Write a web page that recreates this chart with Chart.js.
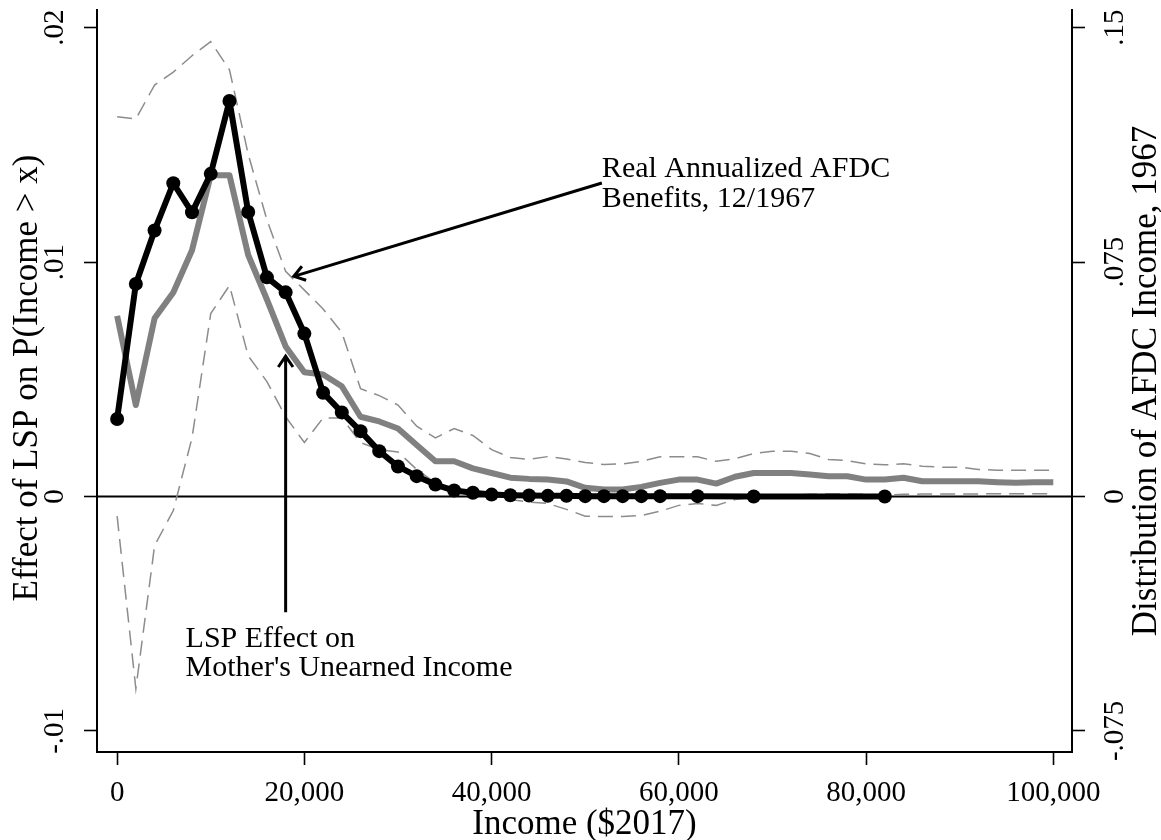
<!DOCTYPE html>
<html>
<head>
<meta charset="utf-8">
<script src="https://cdn.jsdelivr.net/npm/chart.js@4.4.1/dist/chart.umd.min.js"></script>
<style>
  html, body { margin: 0; padding: 0; background: #fff; }
  canvas { display: block; }
</style>
</head>
<body>
<canvas id="chart" width="1161" height="840"></canvas>
<script>
// Income grid ($2017) on which the LSP effect and its confidence band are estimated
const incomeGrid = [
  0, 2000, 4000, 6000, 8000, 10000, 12000, 14000, 16000, 18000,
  20000, 22000, 24000, 26000, 28000, 30000, 32000, 34000, 36000, 38000,
  40000, 42000, 44000, 46000, 48000, 50000, 52000, 54000, 56000, 58000,
  60000, 62000, 64000, 66000, 68000, 70000, 72000, 74000, 76000, 78000,
  80000, 82000, 84000, 86000, 88000, 90000, 92000, 94000, 96000, 98000,
  100000
];

// Effect of LSP on P(Income > x) (left axis)
const lspEffect = [
  0.0077, 0.0039, 0.0076, 0.0087, 0.0105, 0.0137, 0.0137, 0.0103, 0.0084, 0.0064,
  0.0053, 0.0052, 0.0047, 0.0034, 0.0032, 0.0029, 0.0022, 0.0015, 0.0015, 0.0012,
  0.0010, 0.0008, 0.00075, 0.00072, 0.00064, 0.00037, 0.0003, 0.0003, 0.00041, 0.00058,
  0.00072, 0.00072, 0.00055, 0.00084, 0.0010, 0.0010, 0.0010, 0.00094, 0.00086, 0.00086,
  0.00072, 0.00072, 0.0008, 0.00065, 0.00065, 0.00065, 0.00065, 0.00061, 0.00058, 0.00061,
  0.00061
];

// 95% confidence band around the effect
const ciUpper = [
  0.0162, 0.0161, 0.01755, 0.0181, 0.0188, 0.0194, 0.0182, 0.0146, 0.0118, 0.0096,
  0.0088, 0.0080, 0.0070, 0.0046, 0.0043, 0.0039, 0.0030, 0.0025, 0.0029, 0.0026,
  0.0020, 0.00166, 0.00158, 0.0017, 0.0016, 0.00145, 0.00136, 0.00139, 0.0015, 0.00169,
  0.00169, 0.00169, 0.0015, 0.00161, 0.00183, 0.00193, 0.00193, 0.00183, 0.00158, 0.00153,
  0.00139, 0.00135, 0.00139, 0.00129, 0.00125, 0.00125, 0.00115, 0.00112, 0.00112, 0.00112,
  0.00112
];
const ciLower = [
  -0.00084, -0.0082, -0.0021, -0.0006, 0.0025, 0.0078, 0.0090, 0.0060, 0.0049, 0.0034,
  0.0023, 0.00335, 0.00335, 0.0023, 0.0020, 0.0019, 0.00115, 0.00058, 0.00023, 0.00016,
  0.00009, -0.00013, -0.00024, -0.0003, -0.00055, -0.00084, -0.00086, -0.00085, -0.00081, -0.00063,
  -0.00038, -0.0003, -0.00038, -0.00013, -0.00002, 0.00004, 0.00006, 0.00009, 0.00011, 0.00011,
  0.00009, 0.00006, 0.00009, 0.0001, 0.0001, 0.0001, 0.00011, 0.00012, 0.00012, 0.00012,
  0.00012
];

// Distribution of real annualized AFDC benefits, 12/1967 (right axis)
const afdcIncome = [
  0, 2000, 4000, 6000, 8000, 10000, 12000, 14000, 16000, 18000,
  20000, 22000, 24000, 26000, 28000, 30000, 32000, 34000, 36000, 38000,
  40000, 42000, 44000, 46000, 48000, 50000, 52000, 54000, 56000, 58000,
  62000, 68000, 82000
];
const afdcShare = [
  0.0248, 0.0680, 0.0851, 0.1002, 0.0909, 0.1032, 0.1265, 0.0910, 0.0701, 0.0653,
  0.0521, 0.0332, 0.0269, 0.0209, 0.0145, 0.0096, 0.0065, 0.0038, 0.0019, 0.0012,
  0.0006, 0.0004, 0.0003, 0.0002, 0.0002, 0.0001, 0.0001, 0.0001, 0.0001, 0.0001,
  0.0001, 0.0000, 0.0000
];

// Axis ticks
const xTickValues = [0, 20000, 40000, 60000, 80000, 100000];
const xTickLabels = ['0', '20,000', '40,000', '60,000', '80,000', '100,000'];
const leftTickValues = [-0.01, 0, 0.01, 0.02];
const leftTickLabels = ['-.01', '0', '.01', '.02'];
const rightTickValues = [-0.075, 0, 0.075, 0.15];
const rightTickLabels = ['-.075', '0', '.075', '.15'];

// Annotation anchors, in data units (income, left-axis value)
const afdcArrowFrom = [51780, 0.01337];
const afdcArrowTo = [18870, 0.00939];
const afdcNoteAt = [51780, 0.01363];
const lspArrowFrom = [18000, -0.00494];
const lspArrowTo = [18000, 0.00598];
const lspNoteAt = [7310, -0.00643];

const SERIF = '"Liberation Serif", "Times New Roman", Times, serif';
const TICK_PX = 29;
const TITLE_PX = 35;
const NOTE_PX = 30;

function pairs(xs, ys) {
  return xs.map((x, i) => ({ x: x, y: ys[i] }));
}

function fixedTicks(values) {
  return function (scale) {
    scale.ticks = values.map(v => ({ value: v }));
  };
}

function vText(ctx, text, x, y) {
  ctx.save();
  ctx.translate(x, y);
  ctx.rotate(-Math.PI / 2);
  ctx.fillText(text, 0, 0);
  ctx.restore();
}

function arrow(ctx, x1, y1, x2, y2) {
  const ang = Math.atan2(y1 - y2, x1 - x2);
  const len = 13, spread = 0.6;
  ctx.beginPath();
  ctx.moveTo(x1, y1);
  ctx.lineTo(x2, y2);
  ctx.moveTo(x2 + len * Math.cos(ang + spread), y2 + len * Math.sin(ang + spread));
  ctx.lineTo(x2, y2);
  ctx.lineTo(x2 + len * Math.cos(ang - spread), y2 + len * Math.sin(ang - spread));
  ctx.stroke();
}

// Horizontal reference line at zero, under the series
const zeroLine = {
  id: 'zeroLine',
  beforeDatasetsDraw(chart) {
    const { ctx, chartArea } = chart;
    const y = chart.scales.y.getPixelForValue(0);
    ctx.save();
    ctx.strokeStyle = '#000';
    ctx.lineWidth = 2;
    ctx.beginPath();
    ctx.moveTo(chartArea.left, y);
    ctx.lineTo(chartArea.right, y);
    ctx.stroke();
    ctx.restore();
  }
};

// Arrows and their notes
const notes = {
  id: 'notes',
  afterDatasetsDraw(chart) {
    const { ctx } = chart;
    const xs = chart.scales.x, ys = chart.scales.y;
    const px = p => [xs.getPixelForValue(p[0]), ys.getPixelForValue(p[1])];
    ctx.save();
    ctx.strokeStyle = '#000';
    ctx.lineWidth = 3;
    ctx.lineCap = 'butt';
    ctx.lineJoin = 'miter';
    let a = px(afdcArrowFrom), b = px(afdcArrowTo);
    arrow(ctx, a[0], a[1], b[0], b[1]);
    a = px(lspArrowFrom); b = px(lspArrowTo);
    arrow(ctx, a[0], a[1], b[0], b[1]);

    ctx.fillStyle = '#000';
    ctx.font = NOTE_PX + 'px ' + SERIF;
    ctx.textAlign = 'left';
    ctx.textBaseline = 'alphabetic';
    let t = px(afdcNoteAt);
    ctx.fillText('Real Annualized AFDC', t[0], t[1]);
    ctx.fillText('Benefits, 12/1967', t[0], t[1] + 30);
    t = px(lspNoteAt);
    ctx.fillText('LSP Effect on', t[0], t[1]);
    ctx.fillText("Mother's Unearned Income", t[0], t[1] + 29);
    ctx.restore();
  }
};

// Tick labels and axis titles
const axisText = {
  id: 'axisText',
  afterDraw(chart) {
    const { ctx, chartArea } = chart;
    const xs = chart.scales.x, yl = chart.scales.y, yr = chart.scales.y2;
    ctx.save();
    ctx.fillStyle = '#000';
    ctx.textAlign = 'center';
    ctx.textBaseline = 'alphabetic';

    ctx.font = TICK_PX + 'px ' + SERIF;
    xTickValues.forEach((v, i) => {
      ctx.fillText(xTickLabels[i], xs.getPixelForValue(v), chartArea.bottom + 49);
    });
    leftTickValues.forEach((v, i) => {
      vText(ctx, leftTickLabels[i], chartArea.left - 34, yl.getPixelForValue(v));
    });
    rightTickValues.forEach((v, i) => {
      vText(ctx, rightTickLabels[i], chartArea.right + 51, yr.getPixelForValue(v));
    });

    ctx.font = TITLE_PX + 'px ' + SERIF;
    const midX = (chartArea.left + chartArea.right) / 2;
    const midY = (chartArea.top + chartArea.bottom) / 2;
    ctx.fillText('Income ($2017)', midX, chartArea.bottom + 82);
    vText(ctx, 'Effect of LSP on P(Income > x)', chartArea.left - 60, midY - 3);
    vText(ctx, 'Distribution of AFDC Income, 1967', chartArea.right + 84, midY);
    ctx.restore();
  }
};

const axisLine = { display: true, color: '#000', width: 2 };
const tickMarks = {
  drawOnChartArea: false, drawTicks: true, tickLength: 13,
  tickColor: '#000', tickWidth: 1.6, color: '#000'
};

new Chart(document.getElementById('chart'), {
  type: 'line',
  data: {
    datasets: [
      {
        label: 'AFDC benefits',
        data: pairs(afdcIncome, afdcShare),
        yAxisID: 'y2',
        borderColor: '#000',
        borderWidth: 6,
        pointRadius: 7,
        pointBackgroundColor: '#000',
        pointBorderWidth: 0,
        borderJoinStyle: 'round',
        tension: 0
      },
      {
        label: 'LSP effect',
        data: pairs(incomeGrid, lspEffect),
        yAxisID: 'y',
        borderColor: '#808080',
        borderWidth: 6,
        pointRadius: 0,
        borderJoinStyle: 'round',
        tension: 0
      },
      {
        label: 'Upper CI',
        data: pairs(incomeGrid, ciUpper),
        yAxisID: 'y',
        borderColor: '#8c8c8c',
        borderWidth: 1.5,
        borderDash: [15, 8],
        pointRadius: 0,
        tension: 0
      },
      {
        label: 'Lower CI',
        data: pairs(incomeGrid, ciLower),
        yAxisID: 'y',
        borderColor: '#8c8c8c',
        borderWidth: 1.5,
        borderDash: [15, 8],
        pointRadius: 0,
        tension: 0
      }
    ]
  },
  options: {
    responsive: false,
    animation: false,
    events: [],
    layout: { padding: { top: 10, left: 0, right: 0, bottom: 0 } },
    plugins: { legend: { display: false }, tooltip: { enabled: false } },
    scales: {
      x: {
        type: 'linear',
        min: -2150,
        max: 102000,
        afterBuildTicks: fixedTicks(xTickValues),
        afterFit: s => { s.height = 88; },
        ticks: { display: false },
        grid: tickMarks,
        border: axisLine
      },
      y: {
        type: 'linear',
        position: 'left',
        min: -0.0109,
        max: 0.02075,
        afterBuildTicks: fixedTicks(leftTickValues),
        afterFit: s => { s.width = 97; },
        ticks: { display: false },
        grid: tickMarks,
        border: axisLine
      },
      y2: {
        type: 'linear',
        position: 'right',
        min: -0.08175,
        max: 0.155625,
        afterBuildTicks: fixedTicks(rightTickValues),
        afterFit: s => { s.width = 89; },
        ticks: { display: false },
        grid: tickMarks,
        border: axisLine
      }
    }
  },
  plugins: [zeroLine, notes, axisText]
});
</script>
</body>
</html>
